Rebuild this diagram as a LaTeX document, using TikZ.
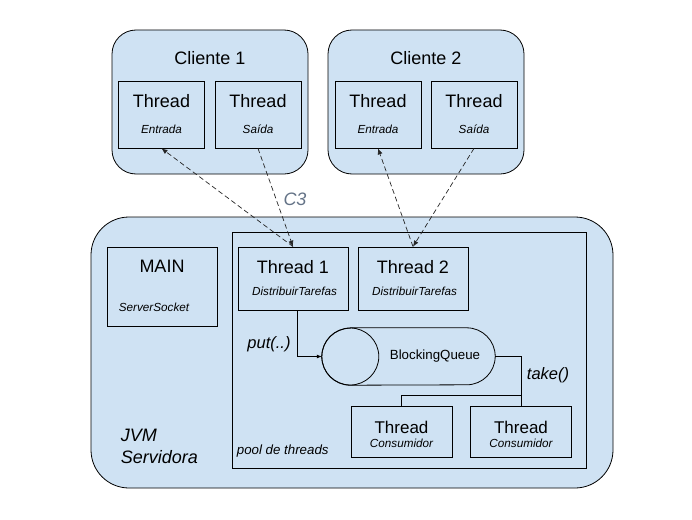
\documentclass[tikz,border=0pt]{standalone}
\usepackage{fontspec}
\setmainfont{Liberation Sans}
\usetikzlibrary{positioning,calc,arrows.meta}
\definecolor{boxblue}{RGB}{207,226,243}
\definecolor{labelgray}{RGB}{100,115,135}

\begin{document}
\begin{tikzpicture}[x=1pt, y=-1pt,
    box/.style={rectangle, draw=black, fill=boxblue, line width=0.8pt, inner sep=0pt},
    clientbox/.style={box, rounded corners=24pt, minimum width=196pt, minimum height=144pt},
    jvmbox/.style={box, rounded corners=38pt, minimum width=522pt, minimum height=271pt},
    poolbox/.style={box, minimum width=354pt, minimum height=236pt},
    iobox/.style={box, minimum width=86pt, minimum height=67pt},
    mainbox/.style={box, minimum width=110pt, minimum height=79pt},
    workerbox/.style={box, minimum width=110pt, minimum height=63pt},
    consbox/.style={box, minimum width=101pt, minimum height=51pt},
    txt/.style={inner sep=0pt, text depth=0pt},
    bigtext/.style={txt, font=\fontsize{18}{22}\selectfont},
    midtext/.style={txt, font=\fontsize{17}{20}\selectfont},
    smalltext/.style={txt, font=\fontsize{11.7}{14}\selectfont\itshape},
    calltext/.style={txt, font=\fontsize{16.5}{20}\selectfont\itshape},
    link/.style={draw=black!85, line width=0.7pt, dash pattern=on 5pt off 3pt, -{Latex[length=6pt,width=5pt]}},
    wire/.style={draw=black, line width=0.8pt}
]
\useasboundingbox (0,0) rectangle (692,519);

% === LAYOUT (pixels, y downwards) ===
% Clients: y=30..174, inner threads y=81..148
% JVM: y=217..488, pool y=232..468
% Queue: y=328..385, consumers y=406..457

% Cliente 1
\node[clientbox] (cliente1) at (210,102) {};
\node[bigtext] (cliente1-title) at (210,58) {Cliente 1};
\node[iobox] (entrada1) at (161.5,114.5) {};
\node[bigtext] at ($(entrada1.north)+(0,20.7)$) {Thread};
\node[smalltext] at ($(entrada1.north)+(0,48.2)$) {Entrada};
\node[iobox] (saida1) at (258,114.5) {};
\node[bigtext] at ($(saida1.north)+(0,20.7)$) {Thread};
\node[smalltext] at ($(saida1.north)+(0,48.2)$) {Saída};

% Cliente 2
\node[clientbox] (cliente2) at (426,102) {};
\node[bigtext] (cliente2-title) at (426,58) {Cliente 2};
\node[iobox] (entrada2) at (378,114.5) {};
\node[bigtext] at ($(entrada2.north)+(0,20.7)$) {Thread};
\node[smalltext] at ($(entrada2.north)+(0,48.2)$) {Entrada};
\node[iobox] (saida2) at (474,114.5) {};
\node[bigtext] at ($(saida2.north)+(0,20.7)$) {Thread};
\node[smalltext] at ($(saida2.north)+(0,48.2)$) {Saída};

% JVM Servidora
\node[jvmbox] (jvm) at (352,352.5) {};
\node[bigtext, font=\fontsize{18}{22}\selectfont\itshape, align=left, anchor=west] (jvm-title) at (120.6,446.5) {JVM\\Servidora};

% MAIN
\node[mainbox] (main) at (162,286.5) {};
\node[bigtext] at ($(main.north)+(0,20)$) {MAIN};
\node[smalltext] at ($(main.north)+(-8,61)$) {ServerSocket};

% Pool de threads
\node[poolbox] (pool) at (409,350) {};
\node[txt, font=\fontsize{13.3}{16}\selectfont\itshape, anchor=west] (pool-title) at (236.7,450) {pool de threads};

\node[workerbox] (thread1) at (293,278.5) {};
\node[bigtext] at ($(thread1.north)+(0,20.5)$) {Thread 1};
\node[smalltext] at ($(thread1.north)+(1.5,44.7)$) {DistribuirTarefas};
\node[workerbox] (thread2) at (413,278.5) {};
\node[bigtext] at ($(thread2.north)+(0,20.5)$) {Thread 2};
\node[smalltext] at ($(thread2.north)+(1.5,44.7)$) {DistribuirTarefas};

% BlockingQueue (horizontal cylinder)
\node[minimum width=173pt, minimum height=57pt, inner sep=0pt] (queue) at (408.5,356.5) {};
\draw[wire, fill=boxblue] ($(queue.north west)+(28.5,0)$) -- ($(queue.north east)+(-28.5,0)$)
    arc[start angle=90, end angle=-90, radius=28.5pt] -- ($(queue.south west)+(28.5,0)$)
    arc[start angle=270, end angle=90, radius=28.5pt] -- cycle;
\draw[wire] ($(queue.west)+(28.5,0)$) circle[radius=28.5pt];
\node[txt, font=\fontsize{13.3}{16}\selectfont] (queue-title) at (435,355) {BlockingQueue};

% Consumidores
\node[consbox] (cons1) at (401.5,431.5) {};
\node[midtext] at ($(cons1.north)+(0,21.3)$) {Thread};
\node[smalltext] at ($(cons1.north)+(0,37.5)$) {Consumidor};
\node[consbox] (cons2) at (521,431.5) {};
\node[midtext] at ($(cons2.north)+(0,21.3)$) {Thread};
\node[smalltext] at ($(cons2.north)+(0,37.5)$) {Consumidor};

% put / take
\draw[wire, -{Latex[length=5pt,width=4pt]}] ($(thread1.south)+(4,0)$) |- (queue.west);
\node[calltext] (put-label) at (269,343) {put(..)};
\coordinate (split) at (cons2.north |- 0,395);
\draw[wire] (queue.east) -| (cons2.north);
\draw[wire] (split) -| (cons1.north);
\node[calltext] (take-label) at (548,374) {take()};

% Socket connections
\draw[link] (thread1.north) -- (entrada1.south);
\draw[link] (saida1.south) -- (thread1.north);
\draw[link] (thread2.north) -- (entrada2.south);
\draw[link] (saida2.south) -- (thread2.north);
\node[bigtext, font=\fontsize{18}{22}\selectfont\itshape, labelgray] (c3) at (295,199.5) {C3};

\end{tikzpicture}
\end{document}
